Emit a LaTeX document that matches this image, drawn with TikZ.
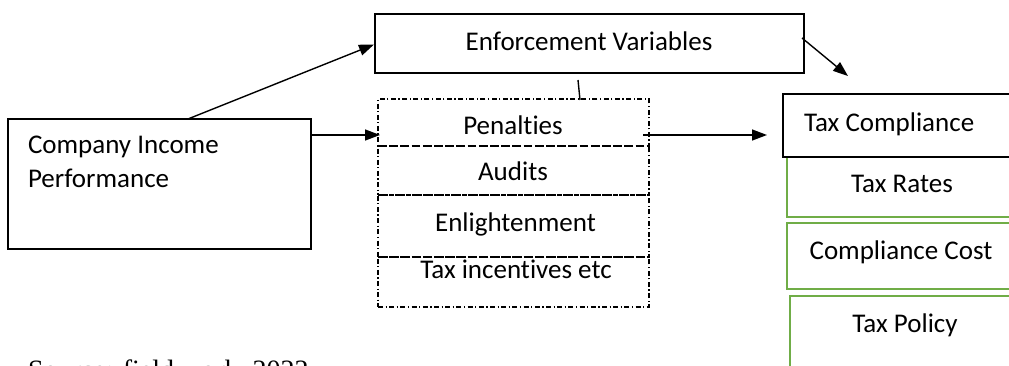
\documentclass[tikz,border=0pt]{standalone}
\usepackage{fontspec}
\setmainfont{Carlito}[Ligatures={NoCommon,NoContextual}]
\newfontfamily\srcfont{Liberation Serif}
\usetikzlibrary{arrows.meta,calc}
\definecolor{boxgreen}{RGB}{112,173,71}
\begin{document}
\begin{tikzpicture}[x=1pt,y=-1pt,
  every node/.style={font=\fontsize{27}{34}\selectfont, inner sep=0pt, outer sep=0pt},
  solidbox/.style={draw=black, line width=1.4pt, rectangle},
  dashbox/.style={draw=black, line width=1.1pt, dash pattern=on 5pt off 2.5pt on 1.2pt off 2.5pt},
  greenbox/.style={draw=boxgreen, line width=2.2pt, rectangle},
  arr/.style={-{Triangle[length=15pt,width=11pt]}, line width=1.4pt},
  plain/.style={line width=1.4pt},
  lbl/.style={anchor=base},
]
\useasboundingbox (0,0) rectangle (1009,366);
\begin{scope}
\clip (0,0) rectangle (1009,366);
% Enforcement variables
\node[solidbox, minimum width=429pt, minimum height=59pt] (enf) at (589.5,43.5) {};
\node[lbl] (enft) at (589,51) {Enforcement Variables};
% Company income performance
\node[solidbox, minimum width=303pt, minimum height=130pt] (comp) at (159.5,184) {};
\node[anchor=base west, align=left] (compt) at (28,154) {Company Income};
\node[anchor=base west, align=left] (compt2) at (28,188) {Performance};
% dashed stack
\node[dashbox, minimum width=271pt, minimum height=47pt] (pen) at (513.5,122.5) {};
\node[dashbox, minimum width=271pt, minimum height=49pt] (aud) at (513.5,170.5) {};
\node[dashbox, minimum width=271pt, minimum height=62pt] (enl) at (513.5,226) {};
\node[dashbox, minimum width=271pt, minimum height=50pt] (inc) at (513.5,282) {};
\node[lbl] (pent) at (513,135) {Penalties};
\node[lbl] (audt) at (513,181) {Audits};
\node[lbl] (enlt) at (515.5,232) {Enlightenment};
\node[lbl] (inct) at (516,278) {Tax incentives etc};
% right column
\node[greenbox, minimum width=253pt, minimum height=60pt] (rates) at (913.5,187) {};
\node[greenbox, minimum width=253pt, minimum height=66pt] (cost) at (913.5,256) {};
\node[greenbox, minimum width=250pt, minimum height=104pt] (policy) at (915,348) {};
\node[solidbox, minimum width=257pt, minimum height=63pt] (tc) at (911.5,125.5) {};
\node[anchor=base west] (tct) at (804,132) {Tax Compliance};
\node[lbl] (ratest) at (902,193) {Tax Rates};
\node[lbl] (costt) at (901,259) {Compliance Cost};
\node[lbl] (policyt) at (905,332) {Tax Policy};
% source
\node[anchor=base west, font=\srcfont\fontsize{28}{34}\selectfont] (src) at (28,379) {Source: field work, 2022};
% connectors
\draw[arr] ([xshift=180pt]comp.north west) -- ([xshift=-1pt,yshift=-1pt]enf.west);
\draw[arr] ([yshift=-16pt]comp.north east) -- ([xshift=2pt,yshift=-12.5pt]pen.west);
\draw[arr] ([xshift=-6pt,yshift=-12.5pt]pen.east) -- ([xshift=-16pt,yshift=-9.5pt]tc.west);
\draw[arr] ([xshift=-2pt,yshift=5.5pt]enf.east) -- ([xshift=65pt,yshift=18pt]tc.north west);
\draw[plain] ([xshift=-11.5pt,yshift=-7pt]enf.south) -- ([xshift=66.5pt,yshift=-1pt]pen.north);
\end{scope}
\end{tikzpicture}
\end{document}
